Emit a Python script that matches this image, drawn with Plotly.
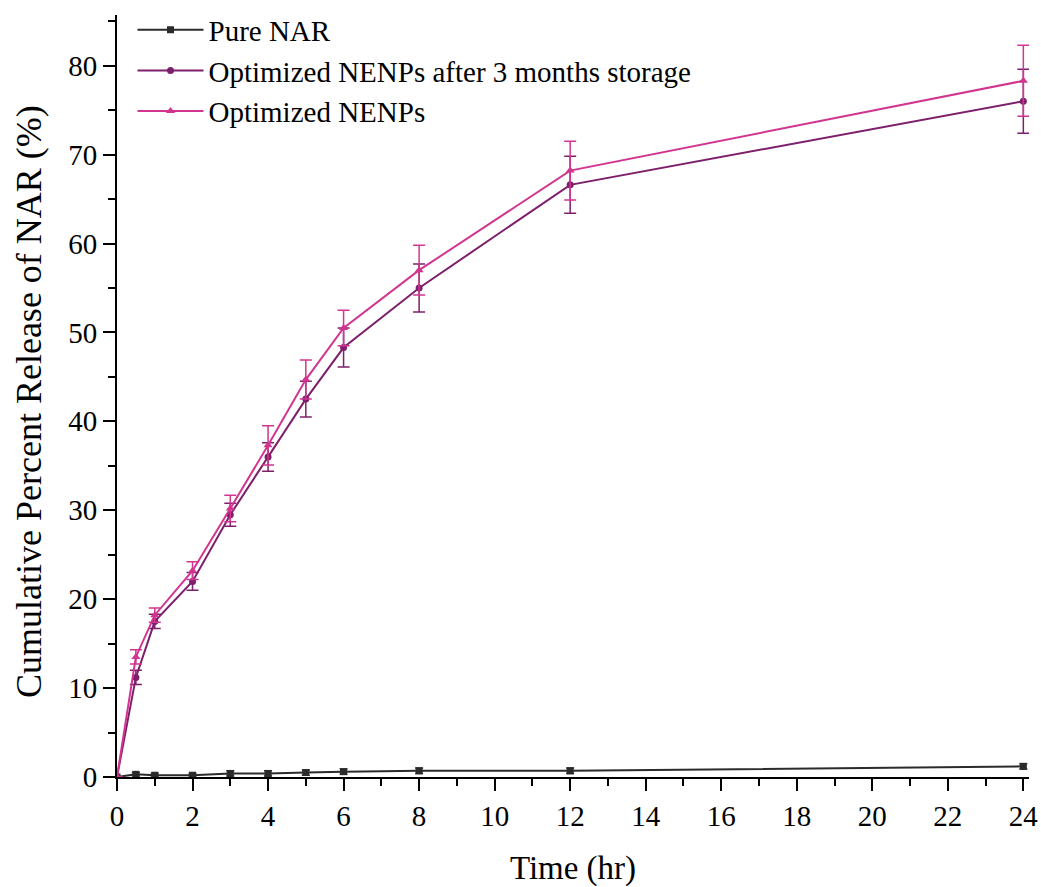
import plotly.graph_objects as go

time_hr = [0, 0.5, 1, 2, 3, 4, 5, 6, 8, 12, 24]

pure_nar = [0, 0.3, 0.2, 0.2, 0.4, 0.4, 0.5, 0.6, 0.7, 0.7, 1.2]
pure_nar_err = [0, 0.2, 0.2, 0.2, 0.3, 0.3, 0.3, 0.3, 0.3, 0.3, 0.3]

storage = [0, 11.2, 17.5, 22.0, 29.5, 36.0, 42.5, 48.3, 55.0, 66.6, 76.0]
storage_err = [0, 0.8, 0.8, 1.0, 1.3, 1.6, 2.0, 2.2, 2.7, 3.2, 3.6]

optimized = [0, 13.5, 18.2, 23.2, 30.2, 37.3, 44.7, 50.5, 57.0, 68.2, 78.3]
optimized_err = [0, 0.8, 0.8, 1.0, 1.5, 2.2, 2.2, 2.0, 2.8, 3.3, 4.0]

x_ticks = list(range(0, 25, 2))
y_ticks = list(range(0, 81, 10))

c_pure = "#2b2b2b"
c_storage = "#7e1f6c"
c_opt = "#d2358f"

W, H = 1041, 887
ML, MR, MT, MB = 117, 12, 15, 110
plot_w = W - ML - MR
plot_h = H - MT - MB

fig = go.Figure()

fig.add_trace(go.Scatter(
    x=time_hr, y=pure_nar, name="Pure NAR", mode="lines+markers",
    line=dict(color=c_pure, width=2),
    marker=dict(symbol="square", size=7, color=c_pure),
    error_y=dict(type="data", array=pure_nar_err, color=c_pure, thickness=1.5, width=4),
))
fig.add_trace(go.Scatter(
    x=time_hr, y=storage, name="Optimized NENPs after 3 months storage", mode="lines+markers",
    line=dict(color=c_storage, width=2),
    marker=dict(symbol="circle", size=7, color=c_storage),
    error_y=dict(type="data", array=storage_err, color=c_storage, thickness=1.5, width=6),
))
fig.add_trace(go.Scatter(
    x=time_hr, y=optimized, name="Optimized NENPs", mode="lines+markers",
    line=dict(color=c_opt, width=2),
    marker=dict(symbol="triangle-up", size=8, color=c_opt),
    error_y=dict(type="data", array=optimized_err, color=c_opt, thickness=1.5, width=6),
))

fig.update_layout(
    width=W, height=H,
    margin=dict(l=ML, r=MR, t=MT, b=MB, autoexpand=False),
    paper_bgcolor="white", plot_bgcolor="white",
    font=dict(family="Liberation Serif", color="black"),
    showlegend=True,
    legend=dict(
        x=0.017, y=1.014, xanchor="left", yanchor="top",
        font=dict(family="Liberation Serif", size=29, color="black"),
        bgcolor="rgba(0,0,0,0)", itemwidth=66, tracegroupgap=0,
    ),
    xaxis=dict(
        range=[0, 24.15], tickvals=x_ticks, ticktext=[str(v) for v in x_ticks],
        showgrid=False, zeroline=False, showline=True, linecolor="black", linewidth=2,
        ticks="outside", ticklen=12, tickwidth=2, tickcolor="black",
        tickfont=dict(family="Liberation Serif", size=29, color="black"),
        ticklabeloverflow="allow", automargin=False,
        minor=dict(dtick=1, tick0=0, ticks="outside", ticklen=7, tickwidth=2, tickcolor="black", showgrid=False),
        title=dict(text="Time (hr)", font=dict(family="Liberation Serif", size=33), standoff=29),
        mirror=False,
    ),
    yaxis=dict(
        range=[0, 85.7], tickvals=y_ticks, ticktext=[str(v) for v in y_ticks],
        showgrid=False, zeroline=False, showline=True, linecolor="black", linewidth=2,
        ticks="outside", ticklen=12, tickwidth=2, tickcolor="black",
        tickfont=dict(family="Liberation Serif", size=29, color="black"),
        automargin=False,
        minor=dict(dtick=5, tick0=0, ticks="outside", ticklen=7, tickwidth=2, tickcolor="black", showgrid=False),
        mirror=False,
    ),
    annotations=[dict(
        text="Cumulative Percent Release of NAR (%)",
        xref="paper", yref="paper", x=(29 - ML) / plot_w, y=(777 - 402) / plot_h,
        xanchor="center", yanchor="middle", textangle=-90, showarrow=False,
        font=dict(family="Liberation Serif", size=36, color="black"),
    )],
)

fig.write_html("out.html")
